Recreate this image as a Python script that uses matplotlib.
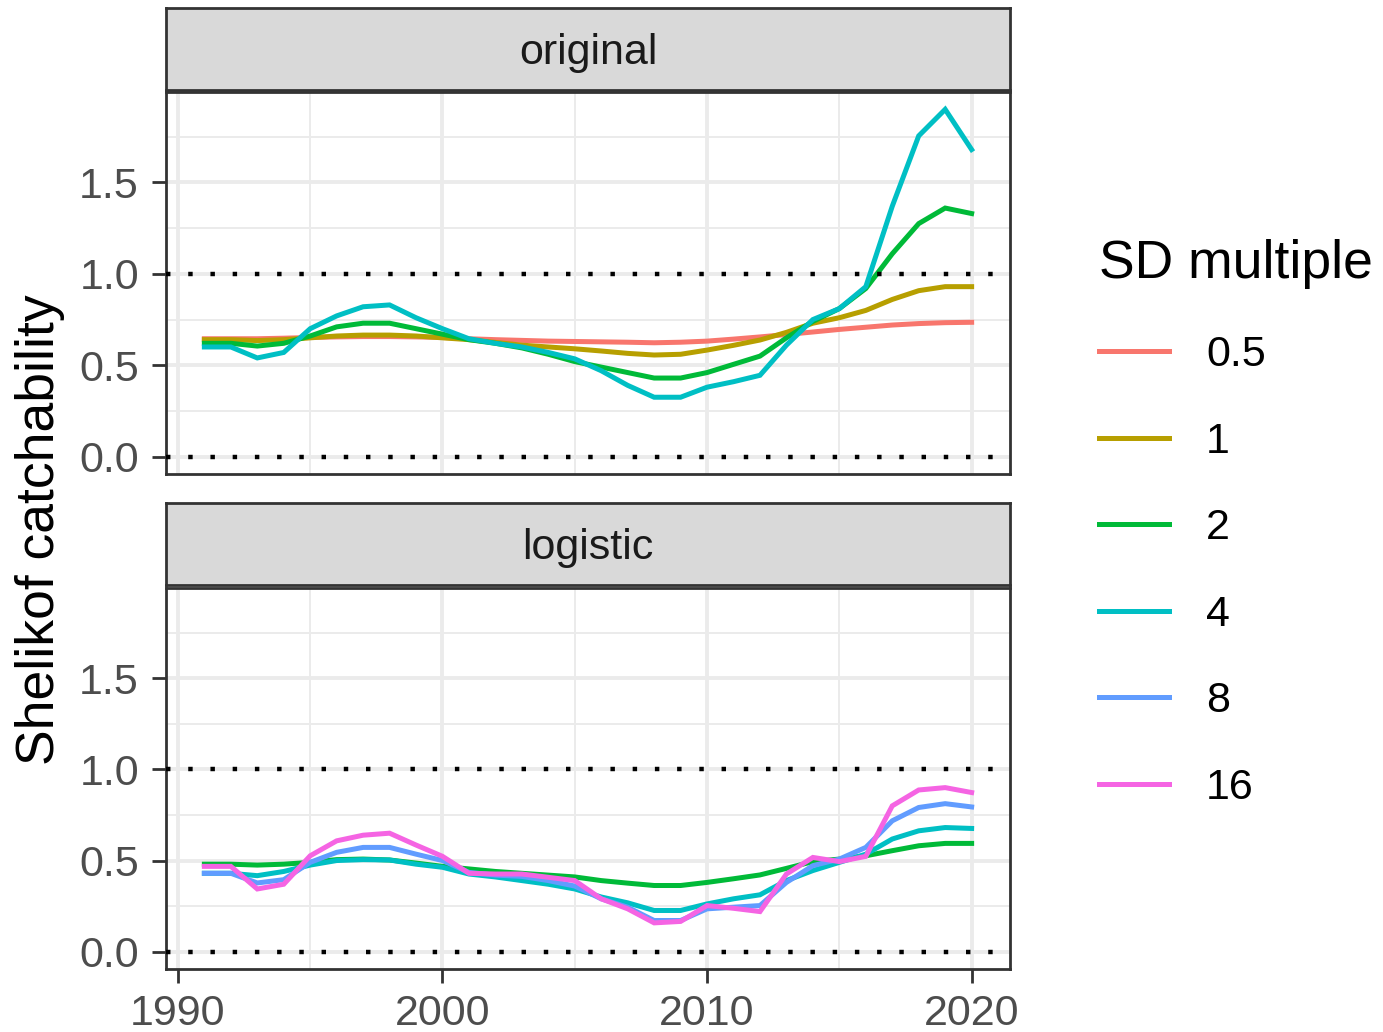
import numpy as np
import matplotlib
matplotlib.use("Agg")
import matplotlib.pyplot as plt
from matplotlib.lines import Line2D
from matplotlib.ticker import MultipleLocator

plt.rcParams['font.family'] = ['Liberation Sans', 'DejaVu Sans']

# ---- data ----
years = list(range(1991, 2021))
sd_levels = ['0.5', '1', '2', '4', '8', '16']
sd_colors = ['#F8766D', '#B79F00', '#00BA38', '#00BFC4', '#619CFF', '#F564E3']
panel_names = ['original', 'logistic']

orig_05 = [0.645, 0.645, 0.645, 0.648, 0.652, 0.655, 0.657, 0.657, 0.655, 0.652,
           0.645, 0.640, 0.636, 0.632, 0.630, 0.628, 0.626, 0.623, 0.626, 0.632,
           0.643, 0.655, 0.668, 0.682, 0.696, 0.708, 0.720, 0.728, 0.733, 0.735]
orig_1 = [0.640, 0.640, 0.635, 0.640, 0.650, 0.660, 0.665, 0.665, 0.660, 0.650,
          0.640, 0.625, 0.610, 0.600, 0.590, 0.578, 0.565, 0.556, 0.560, 0.583,
          0.609, 0.638, 0.680, 0.730, 0.760, 0.800, 0.860, 0.908, 0.930, 0.930]
orig_2 = [0.620, 0.620, 0.605, 0.620, 0.660, 0.710, 0.730, 0.730, 0.700, 0.670,
          0.640, 0.620, 0.595, 0.560, 0.520, 0.490, 0.460, 0.430, 0.430, 0.460,
          0.505, 0.550, 0.650, 0.740, 0.810, 0.920, 1.110, 1.275, 1.360, 1.330]
orig_4 = [0.600, 0.600, 0.540, 0.570, 0.700, 0.770, 0.820, 0.830, 0.760, 0.700,
          0.645, 0.620, 0.600, 0.570, 0.535, 0.470, 0.390, 0.325, 0.325, 0.380,
          0.410, 0.445, 0.610, 0.750, 0.810, 0.930, 1.370, 1.755, 1.900, 1.680]

logi_2 = [0.480, 0.480, 0.475, 0.480, 0.490, 0.505, 0.508, 0.503, 0.486, 0.468,
          0.454, 0.440, 0.430, 0.420, 0.410, 0.390, 0.376, 0.363, 0.363, 0.380,
          0.400, 0.421, 0.457, 0.494, 0.508, 0.526, 0.554, 0.581, 0.594, 0.594]
logi_4 = [0.430, 0.430, 0.417, 0.440, 0.475, 0.500, 0.505, 0.503, 0.480, 0.463,
          0.426, 0.410, 0.390, 0.370, 0.344, 0.300, 0.268, 0.226, 0.226, 0.262,
          0.290, 0.312, 0.390, 0.445, 0.490, 0.535, 0.618, 0.663, 0.681, 0.676]
logi_8 = [0.430, 0.430, 0.377, 0.395, 0.490, 0.545, 0.572, 0.572, 0.535, 0.500,
          0.435, 0.420, 0.413, 0.390, 0.360, 0.290, 0.244, 0.171, 0.171, 0.235,
          0.244, 0.253, 0.380, 0.472, 0.508, 0.572, 0.718, 0.791, 0.812, 0.794]
logi_16 = [0.468, 0.468, 0.344, 0.370, 0.526, 0.608, 0.639, 0.650, 0.585, 0.523,
           0.430, 0.426, 0.426, 0.408, 0.390, 0.290, 0.235, 0.158, 0.166, 0.253,
           0.238, 0.220, 0.426, 0.517, 0.494, 0.523, 0.800, 0.887, 0.900, 0.873]

ref_lines = [0.0, 1.0]

panel_series = {
    'original': {'0.5': orig_05, '1': orig_1, '2': orig_2, '4': orig_4},
    'logistic': {'2': logi_2, '4': logi_4, '8': logi_8, '16': logi_16},
}
color_of = dict(zip(sd_levels, sd_colors))

# ---- layout (pixel boxes of the reference) ----
W, H = 1383, 1032
def box(l, t, r, b):
    return [l / W, 1 - b / H, (r - l) / W, (b - t) / H]

fig = plt.figure(figsize=(W / 100, H / 100), dpi=100)

panel_boxes = [box(166, 92, 1010, 474), box(166, 588, 1010, 969)]
strip_boxes = [box(166, 8, 1010, 90), box(166, 503, 1010, 585)]

allvals = [v for p in panel_series.values() for s in p.values() for v in s] + ref_lines
lo, hi = min(allvals), max(allvals)
ypad = (hi - lo) * 0.05
xpad = (years[-1] - years[0]) * 0.05

for i, name in enumerate(panel_names):
    ax = fig.add_axes(panel_boxes[i])
    for lev in sd_levels:
        if lev in panel_series[name]:
            ax.plot(years, panel_series[name][lev], color=color_of[lev], lw=3.6,
                    solid_joinstyle='miter', zorder=3)
    for r in ref_lines:
        ax.axhline(r, color='black', lw=3.2, ls=(0, (1, 4)), zorder=4)

    ax.set_xlim(years[0] - xpad, years[-1] + xpad)
    ax.set_ylim(lo - ypad, hi + ypad)
    ax.xaxis.set_major_locator(MultipleLocator(10))
    ax.xaxis.set_minor_locator(MultipleLocator(5))
    ax.yaxis.set_major_locator(MultipleLocator(0.5))
    ax.yaxis.set_minor_locator(MultipleLocator(0.25))
    ax.yaxis.set_major_formatter(lambda v, p: f"{v:.1f}")
    ax.grid(which='major', color='#EBEBEB', lw=2.8)
    ax.grid(which='minor', color='#EBEBEB', lw=1.4)
    ax.set_axisbelow(True)
    ax.tick_params(which='major', length=10, width=2, color='#333333',
                   labelsize=31, labelcolor='#4D4D4D')
    ax.tick_params(axis='y', pad=9.5)
    ax.tick_params(axis='x', pad=8)
    ax.tick_params(which='minor', length=0)
    for sp in ax.spines.values():
        sp.set_color('#333333')
        sp.set_linewidth(2)
    if i == 0:
        ax.tick_params(axis='x', which='both', bottom=False, labelbottom=False)

    sax = fig.add_axes(strip_boxes[i])
    sax.set_facecolor('#D9D9D9')
    sax.set_xticks([])
    sax.set_yticks([])
    for sp in sax.spines.values():
        sp.set_color('#333333')
        sp.set_linewidth(2)
    sax.text(0.5, 0.45, name, ha='center', va='center', fontsize=31,
             color='#1A1A1A', transform=sax.transAxes)

fig.text(40 / W, 1 - 530 / H, 'Shelikof catchability', rotation=90,
         fontsize=38.5, ha='center', va='center')

handles = [Line2D([], [], color=c, lw=3.6) for c in sd_colors]
leg = fig.legend(handles, sd_levels, title='SD multiple', loc='upper left',
                 bbox_to_anchor=(1060 / W, 1 - 200 / H), frameon=False,
                 fontsize=31, title_fontsize=38.5, handlelength=1.63,
                 handletextpad=0.86, labelspacing=1.08, alignment='left')

fig.savefig('out.png', dpi=100)
